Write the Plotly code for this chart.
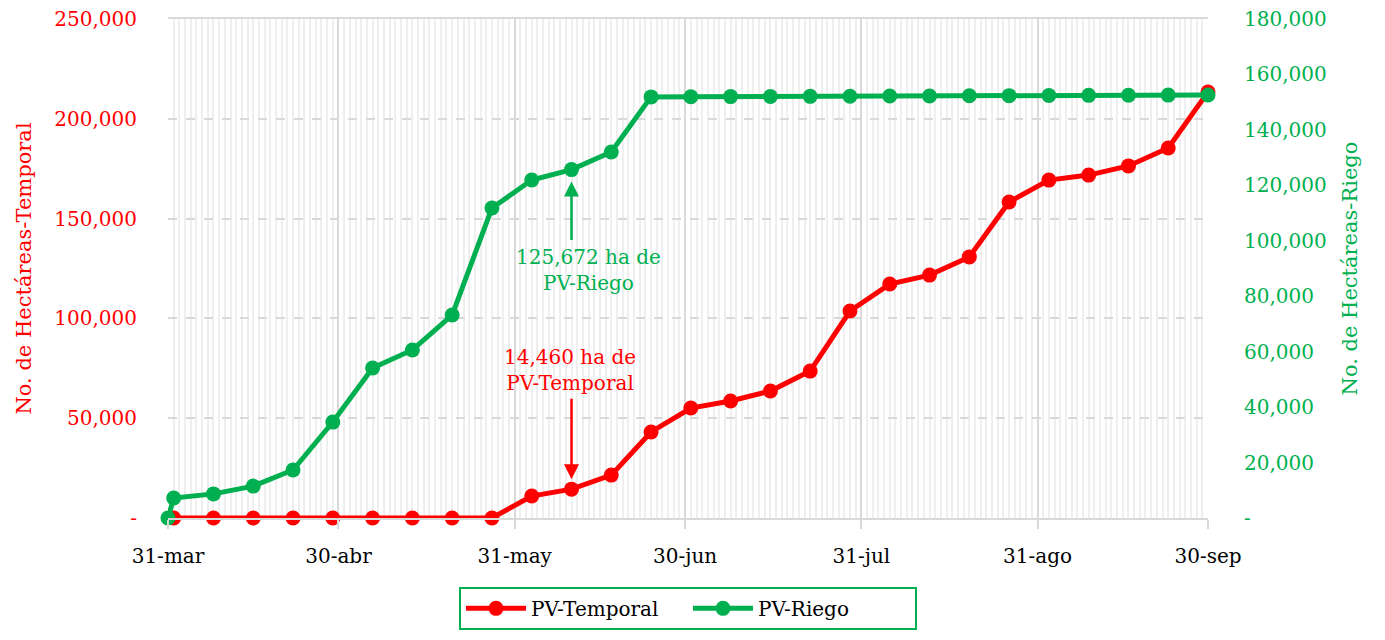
import plotly.graph_objects as go

# ---- data ----
dates_temporal = ["2020-04-01", "2020-04-08", "2020-04-15", "2020-04-22", "2020-04-29",
                  "2020-05-06", "2020-05-13", "2020-05-20", "2020-05-27", "2020-06-03",
                  "2020-06-10", "2020-06-17", "2020-06-24", "2020-07-01", "2020-07-08",
                  "2020-07-15", "2020-07-22", "2020-07-29", "2020-08-05", "2020-08-12",
                  "2020-08-19", "2020-08-26", "2020-09-02", "2020-09-09", "2020-09-16",
                  "2020-09-23", "2020-09-30"]
pv_temporal = [0, 0, 0, 0, 0, 0, 0, 0, 0, 11000, 14460, 21500, 43100, 55100, 58600,
               63600, 73600, 103700, 117200, 121700, 130800, 158300, 169300, 171800,
               176400, 185400, 213400]

dates_riego = ["2020-03-31", "2020-04-01", "2020-04-08", "2020-04-15", "2020-04-22",
               "2020-04-29", "2020-05-06", "2020-05-13", "2020-05-20", "2020-05-27",
               "2020-06-03", "2020-06-10", "2020-06-17", "2020-06-24", "2020-07-01",
               "2020-07-08", "2020-07-15", "2020-07-22", "2020-07-29", "2020-08-05",
               "2020-08-12", "2020-08-19", "2020-08-26", "2020-09-02", "2020-09-09",
               "2020-09-16", "2020-09-23", "2020-09-30"]
pv_riego = [0, 7200, 8700, 11500, 17300, 34600, 54100, 60600, 73200, 111800, 121900,
            125672, 132000, 151900, 151950, 152000, 152050, 152100, 152150, 152200,
            152250, 152300, 152350, 152400, 152450, 152500, 152550, 152600]

x_tickvals = ["2020-03-31", "2020-04-30", "2020-05-31", "2020-06-30", "2020-07-31",
              "2020-08-31", "2020-09-30"]
x_ticktext = ["31-mar", "30-abr", "31-may", "30-jun", "31-jul", "31-ago", "30-sep"]

y_left_vals = [0, 50000, 100000, 150000, 200000, 250000]
y_left_text = ["-", "50,000", "100,000", "150,000", "200,000", "250,000"]
y_right_vals = [0, 20000, 40000, 60000, 80000, 100000, 120000, 140000, 160000, 180000]
y_right_text = ["-", "20,000", "40,000", "60,000", "80,000", "100,000", "120,000",
                "140,000", "160,000", "180,000"]

RED = "#ff0000"
GREEN = "#00b050"
FONT = "DejaVu Serif"
FS = 20

fig = go.Figure()
fig.add_trace(go.Scatter(x=dates_temporal, y=pv_temporal, name="PV-Temporal",
                         mode="lines+markers", line=dict(color=RED, width=5),
                         marker=dict(size=15, color=RED), cliponaxis=False, yaxis="y"))
fig.add_trace(go.Scatter(x=dates_riego, y=pv_riego, name="PV-Riego",
                         mode="lines+markers", line=dict(color=GREEN, width=5),
                         marker=dict(size=15, color=GREEN), cliponaxis=False, yaxis="y2"))

# annotations
fig.add_annotation(x="2020-06-10", y=14460, xref="x", yref="y", text="",
                   showarrow=True, arrowhead=2, arrowsize=1.2, arrowwidth=2.5,
                   arrowcolor=RED, ax=0, ay=-92, standoff=10)
fig.add_annotation(x="2020-06-09 17:00", y=74150, xref="x", yref="y",
                   text="14,460 ha de<br>PV-Temporal", showarrow=False,
                   font=dict(family=FONT, size=FS, color=RED))
fig.add_annotation(x="2020-06-10", y=125672, xref="x", yref="y2", text="",
                   showarrow=True, arrowhead=2, arrowsize=1.2, arrowwidth=2.5,
                   arrowcolor=GREEN, ax=0, ay=72, standoff=12)
fig.add_annotation(x="2020-06-12 22:00", y=124250, xref="x", yref="y",
                   text="125,672 ha de<br>PV-Riego", showarrow=False,
                   font=dict(family=FONT, size=FS, color=GREEN))

fig.update_layout(
    width=1377, height=632,
    margin=dict(l=160, r=177, t=11, b=122, autoexpand=False),
    paper_bgcolor="white", plot_bgcolor="white",
    font=dict(family=FONT, size=FS, color="black"),
    showlegend=True,
    legend=dict(orientation="h", x=0.5, xanchor="center", y=-0.138, yanchor="top",
                bordercolor=GREEN, borderwidth=2, font=dict(family=FONT, size=FS, color="black"),
                entrywidth=152, entrywidthmode="pixels", itemwidth=60),
    xaxis=dict(type="date", range=["2020-03-31", "2020-09-30"],
               tickvals=x_tickvals, ticktext=x_ticktext,
               ticks="outside", ticklen=9, tickcolor="#d9d9d9", tickwidth=2,
               ticklabelstandoff=10, automargin=False, ticklabeloverflow="allow",
               showgrid=True, gridcolor="#d9d9d9", gridwidth=2,
               minor=dict(dtick=86400000, tick0="2020-03-31", showgrid=True,
                          gridcolor="#efefef", gridwidth=2),
               showline=True, linecolor="#d9d9d9", linewidth=2, mirror=True,
               zeroline=False, tickfont=dict(size=FS, color="black")),
    yaxis=dict(range=[0, 250000], tickvals=y_left_vals, ticktext=y_left_text,
               showgrid=True, gridcolor="#d9d9d9", gridwidth=1.5, griddash="dash",
               zeroline=False, tickfont=dict(color=RED, size=FS), automargin=False,
               ticklabelstandoff=30, ticklabeloverflow="allow",
               title=dict(text="No. de Hectáreas-Temporal", font=dict(color=RED, size=21),
                          standoff=16)),
    yaxis2=dict(range=[0, 180000], tickvals=y_right_vals, ticktext=y_right_text,
                overlaying="y", side="right", showgrid=False, zeroline=False,
                tickfont=dict(color=GREEN, size=FS), ticklabelstandoff=35, automargin=False,
                ticklabeloverflow="allow",
                title=dict(text="No. de Hectáreas-Riego", font=dict(color=GREEN, size=21),
                           standoff=16)),
)

fig.write_html("out.html")
